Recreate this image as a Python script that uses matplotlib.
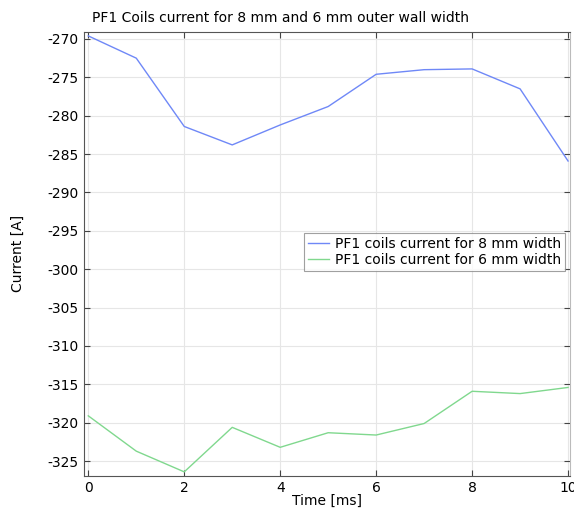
import matplotlib
matplotlib.use("Agg")
import matplotlib.pyplot as plt

plt.rcParams["axes.unicode_minus"] = False

time_ms = [0, 1, 2, 3, 4, 5, 6, 7, 8, 9, 10]
current_8mm = [-269.6, -272.5, -281.4, -283.8, -281.2, -278.8, -274.6, -274.0, -273.9, -276.5, -285.9]
current_6mm = [-319.1, -323.7, -326.4, -320.6, -323.2, -321.3, -321.6, -320.1, -315.9, -316.2, -315.4]
y_ticks = [-270, -275, -280, -285, -290, -295, -300, -305, -310, -315, -320, -325]
x_ticks = [0, 2, 4, 6, 8, 10]

fig = plt.figure(figsize=(5.74, 5.09), dpi=100)
ax = fig.add_axes([0.1463, 0.0654, 0.8467, 0.8716])

ax.plot(time_ms, current_8mm, color="#6f88f7", lw=1.0,
        label="PF1 coils current for 8 mm width")
ax.plot(time_ms, current_6mm, color="#80d88e", lw=1.0,
        label="PF1 coils current for 6 mm width")

ax.set_xlim(-0.09, 10.04)
ax.set_ylim(-326.9, -269.1)
ax.set_xticks(x_ticks)
ax.set_yticks(y_ticks)
ax.grid(True, color="#e6e6e6", lw=0.8)
ax.set_axisbelow(True)

for side in ["left", "bottom", "top"]:
    ax.spines[side].set_color("#555555")
ax.spines["right"].set_color("#bbbbbb")
ax.tick_params(axis="both", direction="in", length=4, width=0.8,
               color="#444444", labelsize=10, top=True, right=True,
               pad=4)

ax.set_xlabel("Time [ms]", fontsize=10, labelpad=-1)
ax.set_ylabel("Current [A]", fontsize=10)
ax.yaxis.set_label_coords(-0.121, 0.5)
fig.text(0.16, 0.965, "PF1 Coils current for 8 mm and 6 mm outer wall width",
         fontsize=10, ha="left", va="center")

leg = ax.legend(loc="upper right", bbox_to_anchor=(0.99, 0.547), fontsize=10,
                frameon=True, fancybox=False, borderpad=0.3,
                handlelength=1.5, handletextpad=0.4, labelspacing=0.1,
                borderaxespad=0)
leg.get_frame().set_edgecolor("#888888")
leg.get_frame().set_linewidth(0.8)

fig.savefig("out.png", dpi=100)
